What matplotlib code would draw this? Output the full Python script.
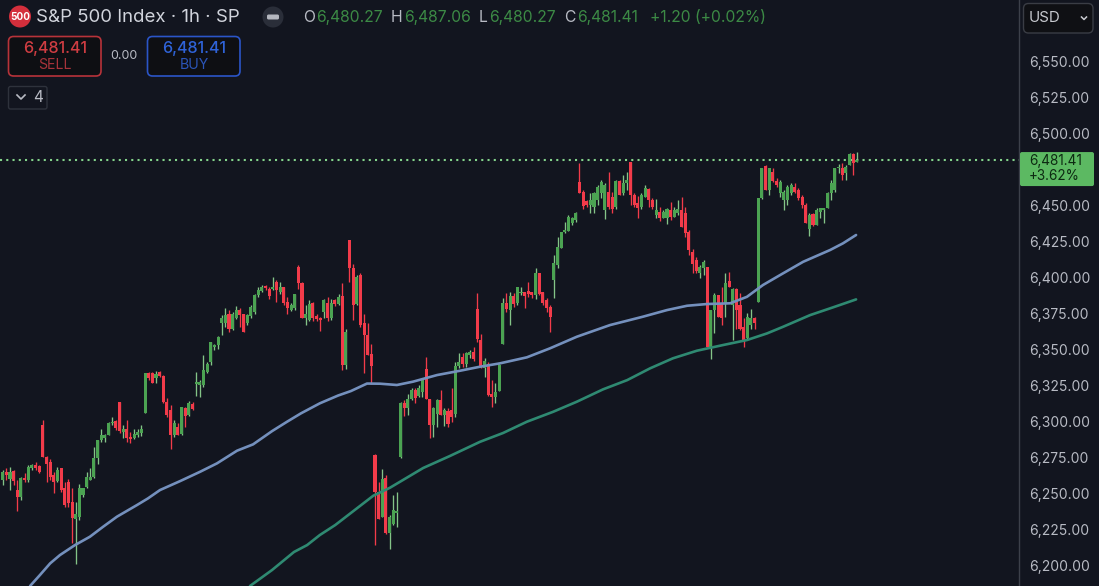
import numpy as np
import matplotlib
matplotlib.use("Agg")
import matplotlib.pyplot as plt
from matplotlib.patches import Circle, FancyBboxPatch

# Hourly candles as (open, high, low, close), grouped by stretch of the move
early_rally = [
    (6259.5,6266.0,6256.0,6265.0),(6265.0,6267.4,6259.3,6262.7),(6260.4,6268.5,6252.3,6265.0),(6265.5,6266.2,6255.8,6258.8),
    (6252.3,6259.3,6238.0,6247.7),(6247.7,6261.6,6245.4,6261.1),(6261.1,6263.9,6258.0,6259.7),(6259.3,6269.7,6258.1,6268.5),
    (6268.0,6270.8,6266.2,6270.1),(6270.1,6272.0,6266.2,6268.0),(6269.0,6269.7,6264.4,6265.0),(6297.5,6300.9,6275.5,6275.5),
    (6275.5,6276.0,6258.1,6270.8),(6272.0,6273.6,6259.3,6261.6),(6262.7,6265.0,6250.0,6258.1),(6258.8,6268.5,6258.1,6266.2),
    (6267.4,6267.4,6251.2,6252.3),(6253.5,6258.1,6240.7,6241.9),(6258.1,6260.4,6240.7,6243.1),(6244.2,6253.5,6215.7,6233.3),
    (6232.6,6244.2,6200.9,6236.1),(6233.8,6256.9,6231.9,6253.5),(6248.8,6253.5,6247.7,6253.5),(6254.6,6265.0,6253.5,6261.6),
    (6259.7,6267.4,6259.3,6261.6),(6261.6,6282.4,6261.1,6274.3),(6274.3,6287.0,6270.8,6287.0),(6287.0,6295.1,6285.9,6290.5),
    (6288.2,6291.2,6285.9,6290.5),(6290.5,6299.8,6290.5,6298.6),(6298.6,6303.2,6297.5,6299.8),(6300.2,6300.9,6294.0,6295.6),
    (6313.7,6313.7,6291.7,6293.5),(6292.8,6297.5,6288.2,6295.1),(6295.1,6300.9,6285.9,6288.2),(6288.9,6292.8,6284.7,6287.5),
    (6288.2,6295.1,6287.5,6291.2),(6290.5,6295.1,6288.9,6292.8),(6292.1,6297.5,6289.8,6295.1),(6305.6,6333.3,6305.6,6333.3),
    (6333.3,6334.5,6328.7,6329.9),(6333.3,6334.5,6326.4,6326.4),(6329.9,6335.2,6326.9,6332.9),(6334.0,6335.2,6331.0,6331.5),
    (6331.5,6332.2,6312.5,6313.7),(6313.7,6316.0,6303.2,6304.4),(6307.9,6311.4,6281.2,6290.5),(6290.5,6300.9,6289.4,6298.6),
    (6296.3,6298.6,6290.5,6290.5),(6291.2,6310.2,6290.5,6310.2),(6309.0,6310.2,6296.3,6303.7),(6304.4,6314.4,6303.7,6312.5),
    (6312.0,6313.7,6307.9,6308.3),
]
climb_to_6425 = [
    (6326.0,6334.5,6318.0,6327.6),(6325.1,6328.6,6317.0,6327.5),(6325.1,6346.0,6324.0,6335.6),(6334.4,6341.4,6333.3,6340.2),
    (6341.4,6355.2,6339.0,6355.2),(6351.8,6354.1,6349.5,6352.9),(6352.9,6359.2,6350.6,6358.7),(6368.0,6373.8,6359.9,6372.1),
    (6368.0,6378.4,6365.7,6373.8),(6374.9,6377.2,6362.2,6364.5),(6364.5,6376.1,6363.4,6374.9),(6371.5,6380.0,6370.8,6377.2),
    (6377.2,6378.4,6365.7,6373.8),(6374.5,6374.9,6362.2,6362.2),(6368.0,6374.9,6366.8,6373.8),(6373.1,6380.7,6372.1,6379.6),
    (6376.1,6388.8,6374.9,6387.7),(6387.7,6393.4,6386.5,6391.1),(6390.7,6394.6,6390.0,6393.4),(6393.9,6394.6,6391.1,6392.3),
    (6391.6,6393.4,6385.3,6387.0),(6391.6,6400.4,6391.1,6393.4),(6396.9,6398.1,6383.0,6391.1),(6390.0,6396.9,6388.8,6393.4),
    (6393.0,6393.4,6380.7,6381.9),(6383.0,6386.5,6374.9,6378.4),(6377.2,6381.9,6376.8,6380.7),(6378.4,6388.8,6377.2,6388.8),
    (6407.3,6408.5,6391.6,6396.2),(6396.2,6396.9,6371.5,6371.5),(6371.5,6380.7,6366.8,6374.9),(6370.3,6384.6,6369.8,6381.4),
    (6381.9,6383.0,6369.8,6371.5),(6373.1,6374.9,6369.8,6370.8),(6372.1,6372.6,6362.9,6370.3),(6376.1,6385.3,6371.5,6384.2),
    (6382.3,6386.5,6369.8,6371.5),(6371.5,6385.3,6370.3,6382.3),(6384.2,6385.3,6380.0,6381.4),(6381.4,6388.8,6380.7,6386.5),
    (6387.0,6395.8,6335.6,6339.0),(6339.0,6364.5,6336.7,6362.2),(6425.9,6425.9,6396.9,6406.2),(6406.2,6409.6,6370.3,6380.7),
    (6381.4,6401.5,6380.7,6400.4),(6401.5,6402.7,6365.7,6366.8),(6368.0,6374.9,6333.3,6359.9),(6359.9,6368.0,6346.0,6346.0),
    (6347.1,6354.1,6326.3,6338.3),
]
gap_down_recovery = [
    (6276.6,6277.7,6214.1,6251.1),(6251.1,6258.0,6232.6,6232.6),(6233.8,6267.3,6233.8,6260.4),(6261.1,6262.7,6222.2,6222.6),
    (6222.6,6234.9,6211.8,6233.8),(6229.1,6248.8,6228.0,6238.4),(6236.5,6251.1,6226.8,6237.9),(6275.0,6313.2,6274.3,6312.5),
    (6312.9,6314.8,6303.7,6309.0),(6309.0,6319.4,6304.4,6315.9),(6315.9,6322.9,6314.8,6321.7),(6321.7,6322.9,6312.5,6316.6),
    (6317.6,6325.2,6317.1,6322.9),(6320.6,6329.1,6317.1,6329.1),(6336.1,6344.9,6315.9,6315.9),(6315.9,6315.9,6288.2,6297.4),
    (6297.4,6310.2,6289.3,6309.0),(6305.5,6315.9,6296.3,6315.2),(6314.8,6321.7,6304.4,6304.4),(6304.4,6309.0,6296.7,6307.8),
    (6307.4,6309.0,6296.3,6298.1),(6307.8,6322.9,6299.7,6303.2),(6305.5,6341.4,6303.2,6338.4),(6338.4,6347.7,6336.8,6341.4),
    (6344.9,6347.2,6337.5,6339.8),(6340.2,6348.3,6337.9,6347.2),(6346.0,6349.5,6343.7,6348.3),(6348.3,6351.8,6342.1,6343.0),
    (6377.7,6388.9,6355.3,6356.9),(6356.4,6360.6,6336.8,6337.9),(6336.8,6343.7,6331.0,6342.1),(6340.2,6341.4,6317.6,6318.2),
    (6319.0,6328.7,6309.7,6317.1),(6317.1,6326.4,6312.5,6320.6),(6321.3,6340.2,6321.3,6339.1),(6354.1,6385.4,6354.1,6381.9),
    (6381.9,6389.3,6376.1,6377.7),(6377.3,6390.0,6366.9,6387.0),(6387.0,6388.9,6379.6,6381.4),(6381.9,6393.5,6380.8,6393.5),
    (6388.9,6393.5,6387.7,6390.0),(6390.0,6390.0,6378.4,6387.0),(6390.7,6397.0,6386.5,6388.4),(6390.0,6390.0,6385.4,6387.7),
    (6387.7,6406.2,6384.7,6402.8),(6402.8,6403.2,6387.7,6388.4),(6390.0,6390.0,6380.8,6381.9),(6384.2,6385.4,6376.1,6378.4),
    (6379.6,6380.8,6362.2,6372.2),
]
first_top = [
    (6398.1,6415.5,6385.4,6409.7),(6408.5,6427.7,6406.2,6421.3),(6420.1,6431.7,6420.1,6431.7),(6431.7,6438.6,6430.5,6432.8),
    (6432.1,6443.3,6432.1,6442.1),(6437.5,6442.1,6436.3,6440.9),(6439.8,6445.6,6438.6,6444.9),(6466.4,6479.1,6458.3,6458.8),
    (6459.5,6460.6,6447.2,6449.5),(6453.2,6453.7,6449.0,6450.2),(6450.2,6458.3,6444.4,6453.7),(6449.0,6459.5,6444.4,6458.3),
    (6453.7,6464.1,6450.2,6462.9),(6458.3,6467.6,6454.8,6466.4),(6446.7,6465.2,6440.2,6464.1),(6459.5,6473.4,6447.2,6448.6),
    (6456.0,6459.5,6444.4,6447.2),(6449.0,6467.6,6447.2,6467.1),(6467.1,6467.6,6457.1,6457.1),(6458.3,6471.0,6457.1,6465.2),
    (6465.2,6473.4,6460.6,6467.6),(6480.3,6480.3,6450.2,6457.1),(6457.1,6458.3,6448.6,6450.2),(6451.4,6456.4,6440.9,6447.9),
    (6449.0,6458.3,6447.2,6457.1),(6456.0,6464.1,6455.5,6461.8),(6461.1,6461.8,6448.6,6453.7),(6453.7,6454.8,6447.2,6448.6),
    (6443.3,6454.1,6440.9,6446.7),(6445.6,6449.0,6439.3,6440.9),(6440.9,6446.7,6440.9,6445.6),(6440.9,6447.9,6437.0,6447.2),
    (6446.7,6452.5,6439.8,6442.1),(6442.1,6448.6,6441.6,6446.7),(6444.9,6453.7,6443.3,6447.2),
]
slide_to_ma = [
    (6446.7,6455.5,6434.7,6434.7),(6444.9,6449.0,6428.2,6430.5),(6431.7,6432.8,6415.5,6419.0),(6417.8,6419.4,6402.7,6409.2),
    (6412.0,6414.3,6403.2,6404.6),(6402.7,6408.5,6399.3,6407.4),(6406.2,6412.0,6401.6,6410.8),(6407.4,6407.4,6351.8,6351.8),
    (6351.8,6377.3,6343.0,6377.3),(6377.3,6388.9,6361.1,6387.7),(6387.7,6387.7,6372.7,6372.7),(6381.9,6393.5,6366.9,6371.5),
    (6381.9,6402.7,6372.7,6395.8),(6397.6,6403.9,6393.0,6393.5),(6380.8,6392.3,6356.4,6391.6),(6391.6,6392.3,6364.5,6377.3),
    (6380.8,6388.9,6363.4,6364.5),(6365.7,6371.5,6351.4,6356.4),(6357.6,6375.0,6356.4,6372.7),(6366.9,6377.7,6364.5,6371.5),
    (6372.0,6372.7,6364.5,6368.0),
]
final_breakout = [
    (6383.1,6454.8,6383.1,6454.8),(6454.8,6475.6,6454.1,6475.6),(6477.2,6477.9,6460.6,6460.6),(6460.6,6475.6,6457.1,6475.6),
    (6473.3,6475.6,6466.4,6467.0),(6467.0,6468.7,6462.9,6464.0),(6458.3,6467.5,6456.0,6466.4),(6453.6,6460.6,6446.7,6459.4),
    (6453.6,6464.0,6450.2,6462.9),(6458.3,6465.2,6457.1,6464.0),(6462.9,6465.7,6458.3,6459.4),(6460.6,6461.7,6453.6,6454.8),
    (6455.5,6457.1,6447.8,6450.2),(6450.2,6451.3,6437.4,6437.9),(6433.9,6444.4,6428.6,6443.2),(6443.9,6444.4,6435.6,6436.3),
    (6436.3,6447.8,6436.3,6447.1),(6445.5,6447.8,6440.9,6447.8),(6446.7,6447.8,6437.4,6447.8),(6447.8,6459.4,6447.8,6458.3),
    (6458.3,6467.5,6453.6,6465.2),(6460.6,6475.6,6459.4,6475.6),(6475.6,6478.6,6472.2,6476.8),(6475.6,6479.1,6467.5,6471.0),
    (6472.2,6478.0,6467.5,6476.8),(6477.9,6486.0,6477.9,6485.6),(6485.6,6486.0,6471.0,6479.1),(6480.27,6487.06,6480.27,6481.41),
]

# Moving averages: vertices as bar number and price
slow_ma_bars = [7.5,10.2,13,15.7,19.8,23.9,27.5,31.3,36.8,39.8,43.1,48.6,54.1,58.7,64.2,68.6,73.8,77.9,81.7,86.9,91.9,95.4,
                99.8,103.4,108,112.4,119,125.3,130.8,136.2,143.6,149.9,157.3,166.4,175.4,182,187.5,193,199.3,203.9,208.3,
                213.8,219.3,226.7,230.2,233.8]
slow_ma_values = [6185.8,6193.4,6201.5,6207.3,6214.2,6220,6226.9,6233.9,6242,6246.6,6252.4,6258.6,6265.1,6270.9,6279.7,6284.1,
                  6293.3,6299.8,6305.6,6312.6,6318,6321.1,6326.3,6326.2,6325.3,6327.6,6332.2,6335.2,6338,6340.3,6344.5,6350.7,
                  6358.8,6366.9,6372.7,6377.3,6380.3,6381.5,6382,6386.5,6394.7,6402.8,6410.8,6419,6423.6,6429.4]
long_ma_bars = [67.75,73.8,79.8,83.4,86.9,91.1,101.5,106.1,115.2,122.5,130.8,137.1,143.6,150.8,157.3,164.5,171.1,177.4,183.6,
                190.2,197.3,203.9,209.4,213.8,221.2,227.5,233.8]
long_ma_values = [6185.8,6196.9,6209.4,6214.2,6221.2,6228.1,6248.4,6254,6267.7,6276,6285.9,6292,6299.8,6306.7,6313.7,6322.3,
                  6328.7,6336.9,6343.8,6349.1,6353,6356.5,6361.1,6365.7,6373.8,6379.2,6384.7]

# The scale level at 6,475 sits behind the last-price tag, so it gets no label
price_ticks = [p for p in range(6200, 6551, 25) if p != 6475]
last_price = 6481.41

BG = "#12151f"
UP = "#4ba352"
UP_WICK = "#84c488"
DOWN = "#f23b4a"
TEXT = "#b8bbc4"
HEADER_UP = "#3c8a45"

candles = np.array(early_rally + climb_to_6425 + gap_down_recovery + first_top + slide_to_ma + final_breakout)
opens, highs, lows, closes = candles.T
bars = np.arange(len(candles))
rising = closes >= opens

W, H = 1099, 586
plt.rcParams["font.family"] = ["Inter", "DejaVu Sans"]
fig = plt.figure(figsize=(W / 100, H / 100), dpi=100, facecolor=BG)

PANEL_X = 1019
ax = fig.add_axes([0, 0, PANEL_X / W, 1], facecolor=BG)
BAR_STEP = 3.65
ax.set_xlim(-2.7 / BAR_STEP, (PANEL_X - 2.7) / BAR_STEP)
ax.set_ylim(6185.8, 6592.5)

ax.vlines(bars[rising], lows[rising], highs[rising], color=UP_WICK, lw=0.95, zorder=2)
ax.vlines(bars[~rising], lows[~rising], highs[~rising], color=DOWN, lw=0.95, zorder=2)
ax.bar(bars[rising], np.maximum(closes - opens, 0.6)[rising], bottom=opens[rising], width=0.84, color=UP, zorder=3)
ax.bar(bars[~rising], (opens - closes)[~rising], bottom=closes[~rising], width=0.84, color=DOWN, zorder=3)

ax.plot(slow_ma_bars, slow_ma_values, color="#7490bd", lw=1.9, zorder=4, solid_capstyle="round", solid_joinstyle="round")
ax.plot(long_ma_bars, long_ma_values, color="#2f8a72", lw=1.9, zorder=4, solid_capstyle="round", solid_joinstyle="round")
ax.axhline(last_price, color="#84d48c", lw=1.5, ls=(0, (1, 2.0)), zorder=1)

ax.yaxis.tick_right()
ax.set_yticks(price_ticks)
ax.set_yticklabels([f"{p:,.2f}" for p in price_ticks], color=TEXT, fontsize=10.0)
ax.tick_params(axis="y", length=0, pad=7.2)
ax.set_xticks([])
for side in ("top", "left", "bottom"):
    ax.spines[side].set_visible(False)
ax.spines["right"].set_color("#3c404a")
ax.spines["right"].set_linewidth(1.0)

# Interface chrome laid out in screen units
ui = fig.add_axes([0, 0, 1, 1], facecolor="none", zorder=10)
ui.set_xlim(0, W)
ui.set_ylim(H, 0)
ui.axis("off")


def box(x0, y0, x1, y1, face, edge, radius=3, lw=1.0):
    ui.add_patch(FancyBboxPatch((x0, y0), x1 - x0, y1 - y0, boxstyle=f"round,pad=0,rounding_size={radius}",
                                facecolor=face, edgecolor=edge, lw=lw))


def label(x, y, s, color=TEXT, size=10, ha="left", weight="normal"):
    ui.text(x, y, s, color=color, fontsize=size, ha=ha, va="center", fontweight=weight)


# Symbol row
ui.add_patch(Circle((20, 16.5), 11, facecolor="#d42f3c", edgecolor="none"))
label(20, 17, "500", "white", 7.2, "center", "bold")
label(36, 17, "S&P 500 Index · 1h · SP", "#d1d4dc", 13.4)
ui.add_patch(Circle((273, 17), 10.5, facecolor="#2a2e39", edgecolor="none"))
box(267, 14.5, 279, 19.5, "#b4b7bf", "none", radius=1.5)

for x, s, color in [(303, "O", TEXT), (316, "6,480.27", HEADER_UP), (391, "H", TEXT), (404, "6,487.06", HEADER_UP),
                    (479, "L", TEXT), (489, "6,480.27", HEADER_UP), (564, "C", TEXT), (577, "6,481.41", HEADER_UP),
                    (650, "+1.20 (+0.02%)", HEADER_UP)]:
    label(x, 17.5, s, color, 11.3)

# Order buttons
box(8.5, 36.5, 101, 76, "#0e0f13", "#b8333a", radius=5, lw=1.2)
label(55, 49, "6,481.41", "#cf3d42", 11.6, "center", "medium")
label(55, 65, "SELL", "#a8333a", 10.2, "center")
label(124, 56, "0.00", TEXT, 9, "center")
box(147.5, 36.5, 240, 76, "#0e0f13", "#2b55c8", radius=5, lw=1.2)
label(194, 49, "6,481.41", "#2f63d8", 11.6, "center", "medium")
label(194, 65, "BUY", "#2b55b8", 10.2, "center")

# Indicator counter
box(8.5, 86.5, 47, 109, BG, "#2e323c", radius=2)
ui.plot([17, 21, 25], [95, 99, 95], color=TEXT, lw=1.2)
label(33, 98, "4", TEXT, 11)

# Currency selector
box(1023.5, 3.5, 1093, 33, "#0f1014", "#3a3d45", radius=5)
label(1029, 18.5, "USD", "#c8cad0", 10.8)
ui.plot([1081.5, 1084, 1086.5], [17, 19.5, 17], color="#c8cad0", lw=1.1)

# Last price tag
ax_y = H - ax.transData.transform((0, last_price))[1]
box(1020, ax_y - 8, 1094, ax_y + 26, "#5cb962", "none", radius=2)
label(1029, ax_y + 0.5, "6,481.41", "#0d2a12", 9.8)
label(1029, ax_y + 16, "+3.62%", "#0d2a12", 9.8)

fig.savefig("out.png", dpi=100, facecolor=BG)
